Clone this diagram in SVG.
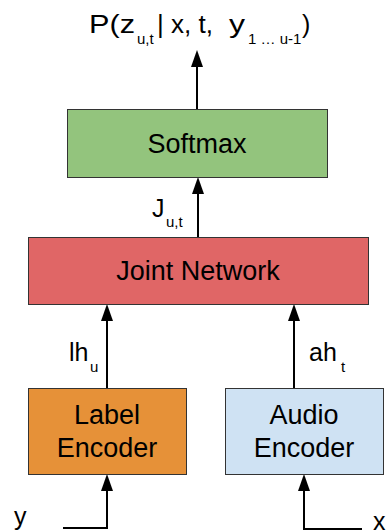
<svg xmlns="http://www.w3.org/2000/svg" width="387" height="532" viewBox="0 0 387 532">
<style>
.box{stroke:#333;stroke-width:1}
.lbl{font-family:"Liberation Sans",Arial,sans-serif;font-size:27px;fill:#000;text-anchor:middle}
.t{font-family:"Liberation Sans",Arial,sans-serif;font-size:25px;fill:#000}
.s{font-size:15px}
.c{fill:none;stroke:#000;stroke-width:2}
</style>
<defs>
<marker id="ah" markerUnits="userSpaceOnUse" markerWidth="17" markerHeight="12" refX="13" refY="6" orient="auto">
<path d="M0,0 L17,6 L0,12 z" fill="#000"/>
</marker>
</defs>
<rect width="387" height="532" fill="#fff"/>
<g id="connectors">
<line class="c" x1="197" y1="109" x2="197" y2="54" marker-end="url(#ah)"/>
<line class="c" x1="198" y1="237" x2="198" y2="181" marker-end="url(#ah)"/>
<line class="c" x1="107" y1="388" x2="107" y2="308" marker-end="url(#ah)"/>
<line class="c" x1="294" y1="388" x2="294" y2="308" marker-end="url(#ah)"/>
<polyline class="c" points="63,528 107,528 107,478" marker-end="url(#ah)"/>
<polyline class="c" points="362,529 304,529 304,478" marker-end="url(#ah)"/>
</g>
<g id="softmax">
<rect class="box" x="67.5" y="109.5" width="260" height="68" fill="#93c47d"/>
<text class="lbl" x="197" y="153">Softmax</text>
</g>
<g id="joint">
<rect class="box" x="28.5" y="237.5" width="340" height="67" fill="#e06666"/>
<text class="lbl" x="198" y="280">Joint Network</text>
</g>
<g id="label-encoder">
<rect class="box" x="28.5" y="388.5" width="158" height="86" fill="#e69138"/>
<text class="lbl" x="107" y="424">Label</text>
<text class="lbl" x="107" y="457">Encoder</text>
</g>
<g id="audio-encoder">
<rect class="box" x="225.5" y="388.5" width="158" height="86" fill="#cfe2f3"/>
<text class="lbl" x="304" y="424">Audio</text>
<text class="lbl" x="304" y="457">Encoder</text>
</g>
<g id="labels">
<text class="t" y="33"><tspan x="89" textLength="46" lengthAdjust="spacingAndGlyphs">P(z</tspan><tspan class="s" x="137" y="44">u,t</tspan><tspan x="157" y="33" textLength="56" lengthAdjust="spacingAndGlyphs">| x, t,</tspan><tspan x="229" textLength="16" lengthAdjust="spacingAndGlyphs">y</tspan><tspan class="s" x="248" y="44">1 … u-1</tspan><tspan x="302" y="33">)</tspan></text>
<text class="t" y="217"><tspan x="152">J</tspan><tspan class="s" x="166" y="227">u,t</tspan></text>
<text class="t" y="361"><tspan x="69">lh</tspan><tspan class="s" x="90" y="372">u</tspan></text>
<text class="t" y="361"><tspan x="309">ah</tspan><tspan class="s" x="341" y="372">t</tspan></text>
<text class="t" x="14" y="525">y</text>
<text class="t" x="373" y="530">x</text>
</g>
</svg>
